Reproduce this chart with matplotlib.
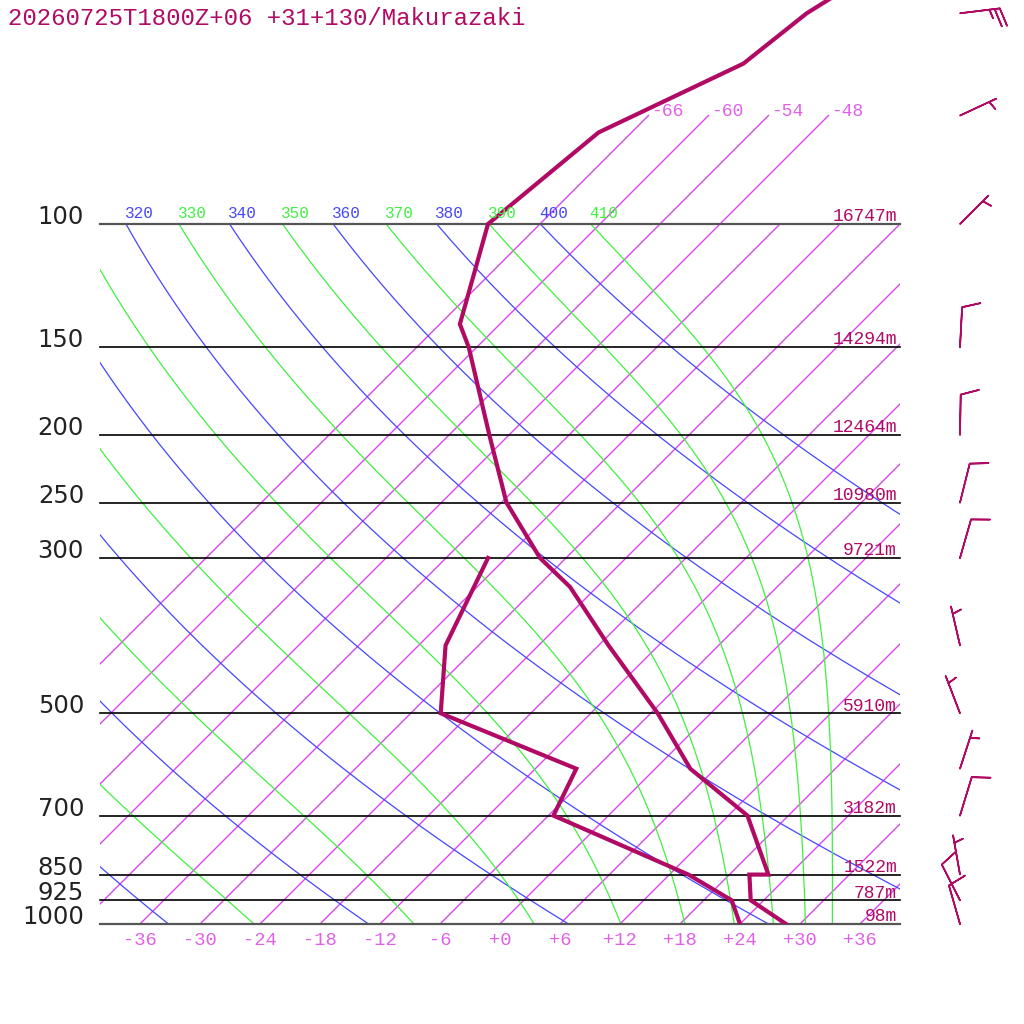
import numpy as np
import matplotlib
matplotlib.use('Agg')
import matplotlib.pyplot as plt
from matplotlib.transforms import blended_transform_factory

TITLE = '20260725T1800Z+06 +31+130/Makurazaki'

levels = [1000, 925, 850, 700, 500, 300, 250, 200, 150, 100]
heights = ['98m', '787m', '1522m', '3182m', '5910m', '9721m', '10980m', '12464m', '14294m', '16747m']

temp_p = [1000, 925, 850, 850, 700, 600, 500, 400, 330, 300, 250, 200, 150, 139, 100, 74, 59, 50, 40]
temp_t = [28.6, 22.7, 20.0, 21.9, 13.9, 3.5, -5.3, -17.0, -26.7, -32.6, -41.5, -50.0, -60.8, -64.0, -71.2, -69.3, -61.7, -60.4, -56.3]

dew_p = [1000, 925, 850, 700, 600, 500, 400, 300]
dew_t = [24.0, 20.8, 13.9, -5.5, -7.9, -27.0, -33.3, -37.8]

wind_p = [1000, 925, 850, 700, 600, 500, 400, 300, 250, 200, 150, 100, 70, 50]
wind_dir = [344, 333, 350, 17, 18, 339, 347, 16, 14, 1, 3, 45, 65, 83]
wind_kt = [10, 10, 5, 10, 5, 5, 5, 10, 10, 10, 10, 5, 5, 25]

isotherms = list(range(-66, 37, 6))
upper_isotherms = [-66, -60, -54, -48]
tick_temps = list(range(-36, 37, 6))
dry_thetas = list(range(240, 401, 20))
moist_thetas = list(range(250, 411, 20))

SKEW = 70.0  # deg of x shift per decade of pressure
P_TOP = 1000 * 10 ** (-924 / 700)
MAG = '#b00a64'
ISO = '#dc46f0'
BLUE = '#4646ff'
GREEN = '#40f040'
MONO = 'Liberation Mono'


def skew(t, p):
	return np.asarray(t, float) + SKEW * np.log10(1000.0 / np.asarray(p, float))


def theta_e(tk, p):
	tc = tk - 273.15
	e = 6.112 * np.exp(17.67 * tc / (tc + 243.5))
	e = np.minimum(e, 0.5 * p)
	r = 622.0 * e / (p - e)
	return tk * (1000.0 / p) ** (0.2854 * (1 - 0.28e-3 * r)) * np.exp((3.376 / tk - 0.00254) * r * (1 + 0.81e-3 * r))


def moist_t(th, p):
	lo = np.full_like(p, 150.0)
	hi = np.full_like(p, 330.0)
	for _ in range(50):
		mid = (lo + hi) / 2
		up = theta_e(mid, p) > th
		hi = np.where(up, mid, hi)
		lo = np.where(up, lo, mid)
	return (lo + hi) / 2 - 273.15


fig = plt.figure(figsize=(10.24, 10.24), dpi=100)
ax = fig.add_axes([100 / 1024, 100 / 1024, 800 / 1024, 924 / 1024])
ax.set_yscale('log')
ax.set_ylim(1000, P_TOP)
ax.set_xlim(-40, 40)
ax.axis('off')

pp = np.logspace(3, 2, 200)

# isotherms
for t in isotherms:
	ptop = 70 if t in upper_isotherms else 100
	ax.plot(skew([t, t], [1000, ptop]), [1000, ptop], color=ISO, lw=1.0)
for t in upper_isotherms:
	ax.annotate('%+d' % t, (skew(t, 70), 70), xytext=(2, 0), textcoords='offset points',
		ha='left', va='baseline', fontsize=13, color='#e060e8', family=MONO)

# dry adiabats
for th in dry_thetas:
	t = th * (pp / 1000.0) ** 0.2857 - 273.15
	ax.plot(skew(t, pp), pp, color=BLUE, lw=0.9)
	ax.annotate(str(th), (skew(t[-1], 100), 100), xytext=(-1, 4), textcoords='offset points',
		ha='left', va='baseline', fontsize=11.5, color=BLUE, family=MONO, clip_on=True)

# moist adiabats
for th in moist_thetas:
	t = moist_t(th, pp)
	ax.plot(skew(t, pp), pp, color=GREEN, lw=0.9)
	ax.annotate(str(th), (skew(t[-1], 100), 100), xytext=(-1, 4), textcoords='offset points',
		ha='left', va='baseline', fontsize=11.5, color=GREEN, family=MONO, clip_on=True)

# isobars
trans = blended_transform_factory(fig.transFigure, ax.transData)
for p, h in zip(levels, heights):
	edge = p in (100, 1000)
	ax.plot([-40, 40], [p, p], color='#555555' if edge else 'black', lw=1.6 if edge else 1.2, clip_on=False)
	ax.text(84 / 1024, p, str(p), transform=trans, ha='right', va='baseline',
		fontsize=17.5, color='#222222', family='DejaVu Sans')
	ax.annotate(h, (39.7, p), xytext=(0, 2), textcoords='offset points',
		ha='right', va='baseline', fontsize=13, color=MAG, family=MONO)

for t in tick_temps:
	ax.annotate('%+d' % t, (t, 1000), xytext=(0, -12), textcoords='offset points',
		ha='center', va='center', fontsize=13.5, color='#e060e8', family=MONO, annotation_clip=False)

# profiles
ax.plot(skew(temp_t, temp_p), temp_p, color=MAG, lw=3, solid_joinstyle='miter')
ax.plot(skew(dew_t, dew_p), dew_p, color=MAG, lw=3, solid_joinstyle='miter')

# wind barbs
d = np.radians(wind_dir)
u = -np.array(wind_kt) * np.sin(d)
v = -np.array(wind_kt) * np.cos(d)
b = ax.barbs(np.full(len(wind_p), 46.0), wind_p, u, v, length=7.6, barbcolor=MAG, linewidth=1.2,
	sizes=dict(spacing=0.13, height=0.45))
b.set_clip_on(False)

fig.text(8 / 1024, 1 - 25 / 1024, TITLE, ha='left', va='baseline', fontsize=17.3, color=MAG, family=MONO)

fig.savefig('out.png', dpi=100, facecolor='white')
